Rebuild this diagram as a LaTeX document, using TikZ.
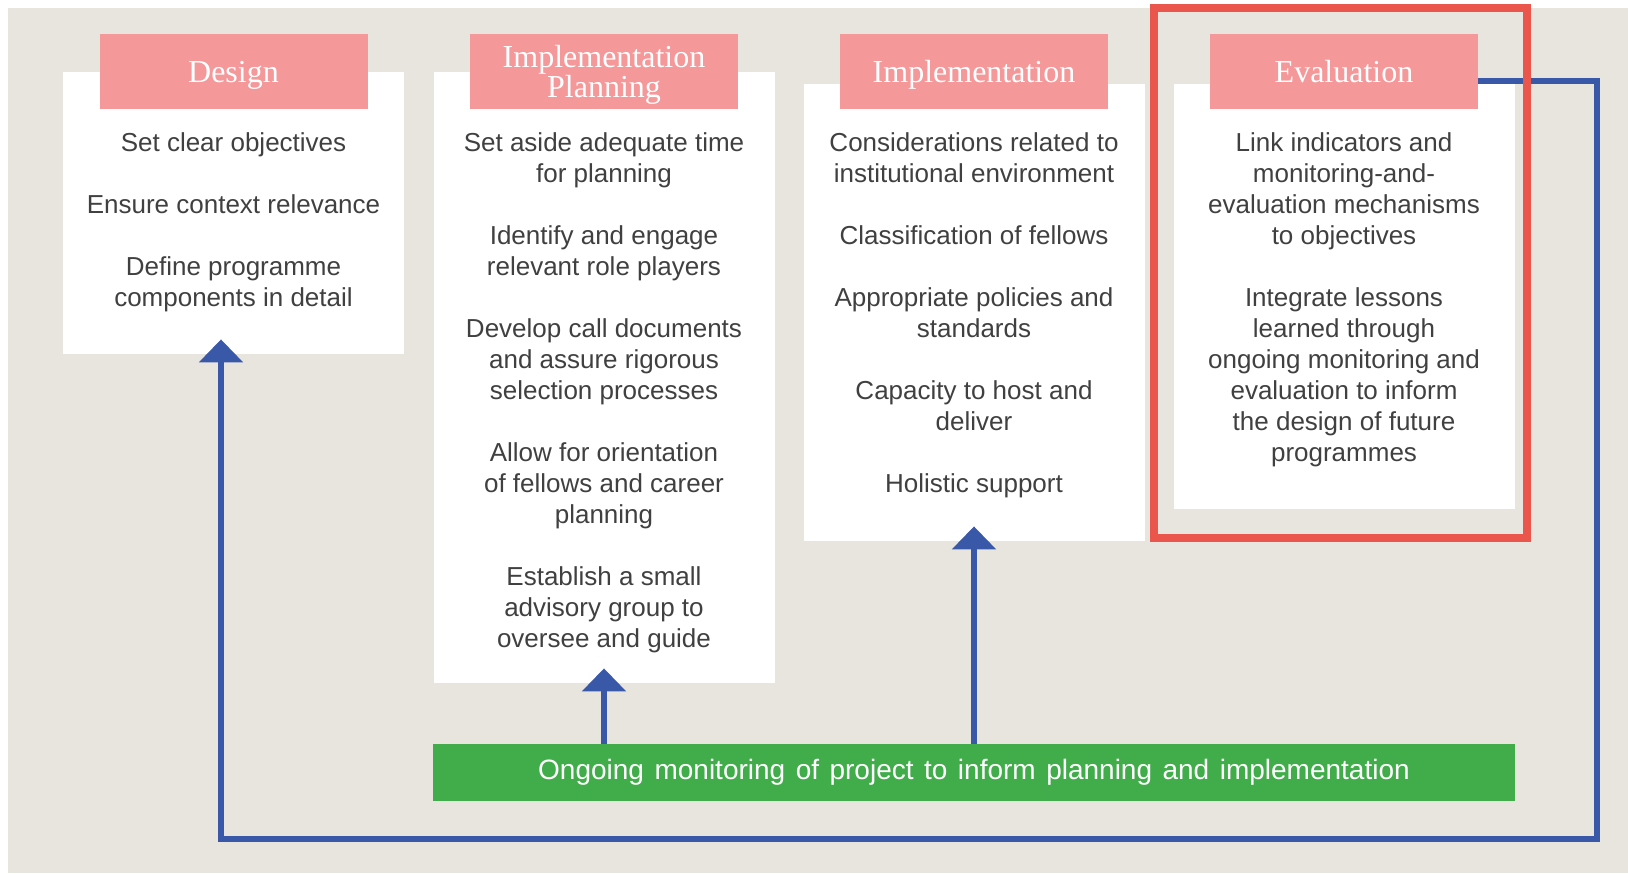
\documentclass[tikz,border=0pt]{standalone}
\usepackage{fontspec}
\setmainfont{Liberation Sans}
\newfontfamily\headfont{Liberation Serif}
\usetikzlibrary{positioning,arrows.meta}
\definecolor{bgcol}{HTML}{E8E5DF}
\definecolor{pinkcol}{HTML}{F4989A}
\definecolor{greencol}{HTML}{41AD4A}
\definecolor{bluecol}{HTML}{3A58A8}
\definecolor{redcol}{HTML}{EA564B}
\definecolor{txtcol}{HTML}{404040}

\begin{document}
\begin{tikzpicture}[x=1pt,y=-1pt,
    card/.style={fill=white,minimum width=341pt,anchor=north,inner sep=0},
    cardhead/.style={fill=pinkcol,text=white,minimum width=268pt,minimum height=75pt,text depth=0pt,anchor=north,inner sep=0,align=center,font=\headfont\fontsize{32}{27}\selectfont},
    cardtext/.style={below=20pt of #1,inner sep=0,align=center,text=txtcol,font=\fontsize{26}{31}\selectfont},
    feed/.style={draw=bluecol,line width=6pt,-{Triangle[width=43pt,length=23pt]},shorten >=-15pt}]
  \useasboundingbox (0,0) rectangle (1628,873);
  \fill[bgcol] (8,8) rectangle (1628,873);
  \node[card,minimum height=282pt] (design) at (233.5,72) {};
  \node[card,minimum height=611pt] (plan) at (604,72) {};
  \node[card,minimum height=457pt] (impl) at (974,84) {};
  \node[card,minimum height=425pt] (eval) at (1344.5,84) {};
  \node[cardhead] (designhead) at (233.5,34) {Design};
  \node[cardhead] (planhead) at (604,34) {Implementation\\Planning};
  \node[cardhead] (implhead) at (974,34) {Implementation};
  \node[cardhead] (evalhead) at (1344,34) {Evaluation};
  \node[cardtext=designhead] (designtext) {\strut Set clear objectives\\[31pt]
    Ensure context relevance\\[31pt]
    Define programme\\components in detail};
  \node[cardtext=planhead] (plantext) {\strut Set aside adequate time\\for planning\\[31pt]
    Identify and engage\\relevant role players\\[31pt]
    Develop call documents\\and assure rigorous\\selection processes\\[31pt]
    Allow for orientation\\of fellows and career\\planning\\[31pt]
    Establish a small\\advisory group to\\oversee and guide};
  \node[cardtext=implhead] (impltext) {\strut Considerations related to\\institutional environment\\[31pt]
    Classification of fellows\\[31pt]
    Appropriate policies and\\standards\\[31pt]
    Capacity to host and\\deliver\\[31pt]
    Holistic support};
  \node[cardtext=evalhead] (evaltext) {\strut Link indicators and\\monitoring-and-\\evaluation mechanisms\\to objectives\\[31pt]
    Integrate lessons\\learned through\\ongoing monitoring and\\evaluation to inform\\the design of future\\programmes};
  \node[fill=greencol,text=white,minimum width=1082pt,minimum height=57pt,inner sep=0,font=\fontsize{28}{31}\selectfont] (monitor) at (974,772.5) {\spaceskip=10.5pt\relax Ongoing monitoring of project to inform planning and implementation};
  \draw[feed] (monitor.north -| plan.south) -- (plan.south);
  \draw[feed] (monitor.north -| impl.south) -- (impl.south);
  \coordinate (tr) at (1597,81);
  \coordinate (bl) at (221,839);
  \draw[feed] (evalhead.east |- tr) -- (tr) |- (bl) -- (bl |- design.south);
  \node[draw=redcol,line width=8pt,minimum width=373pt,minimum height=530pt,inner sep=0] (focus) at (1340.5,273) {};
\end{tikzpicture}
\end{document}
